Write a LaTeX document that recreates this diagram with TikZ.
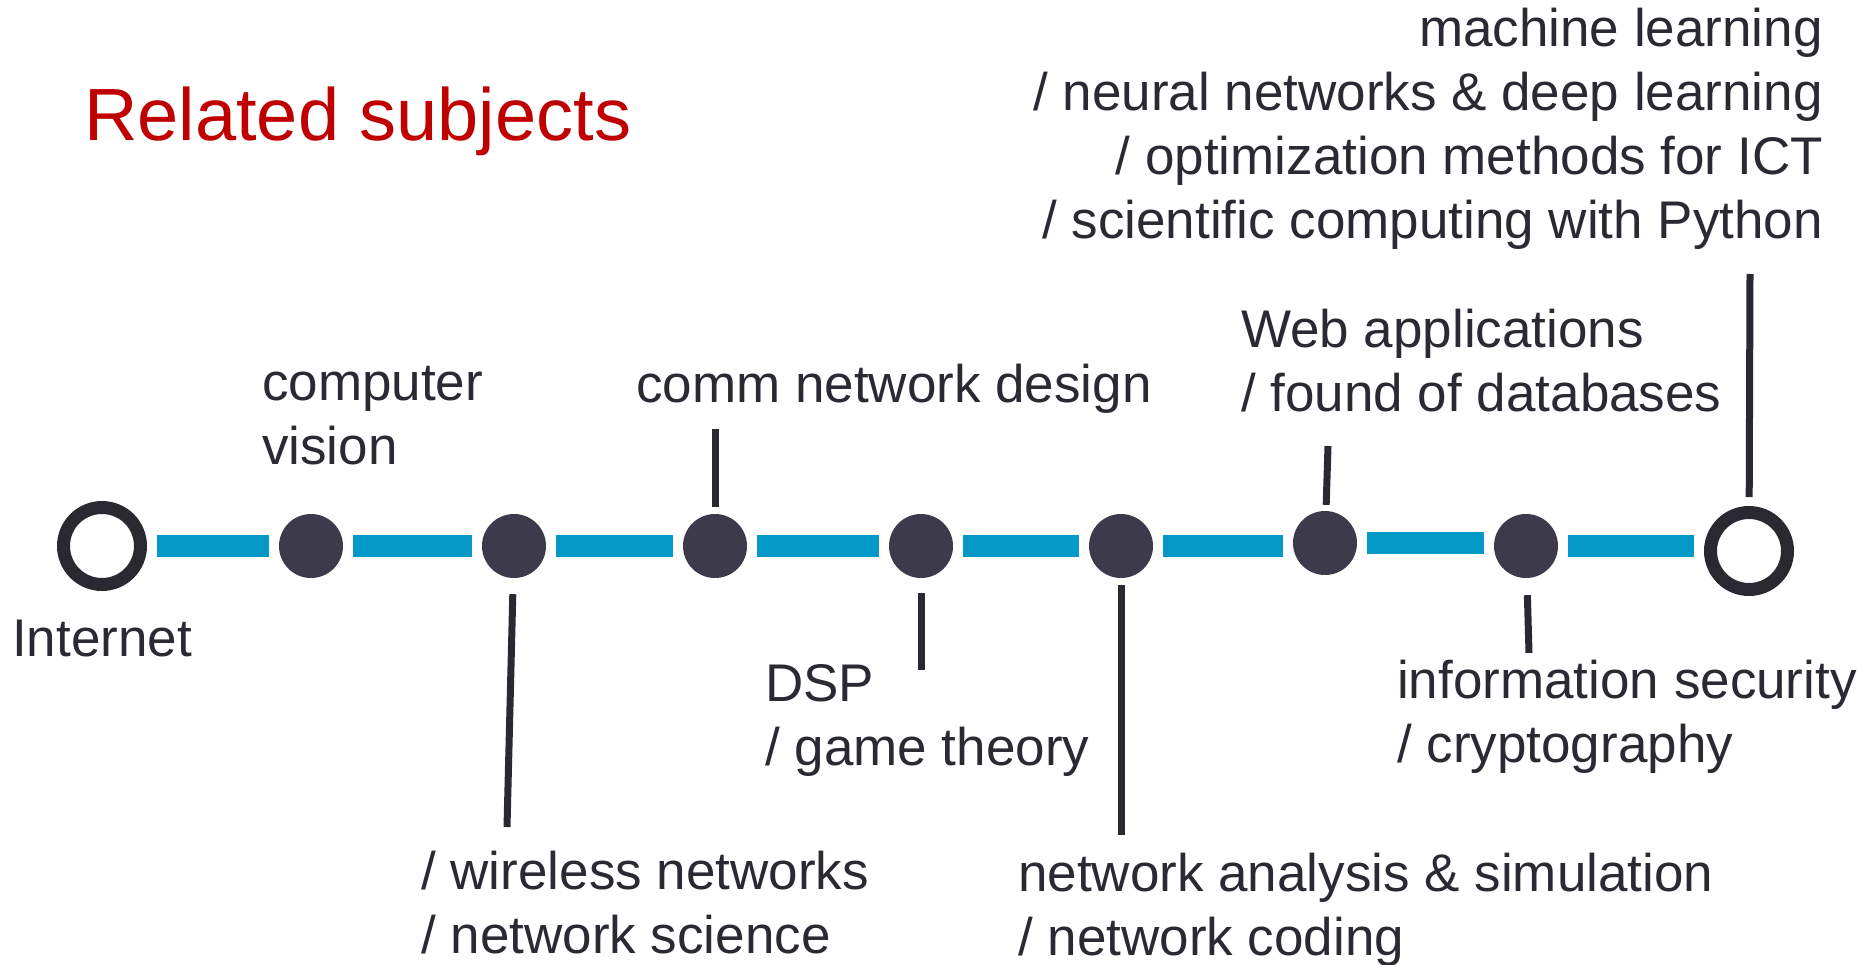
\documentclass[tikz,border=0pt]{standalone}
\usepackage{fontspec}
\setmainfont{Liberation Sans}
\usepackage{xcolor}
\definecolor{colorTitle}{HTML}{C00000}
\definecolor{colorText}{HTML}{2B2A33}
\definecolor{colorStation}{HTML}{3C3A4B}
\definecolor{colorRing}{HTML}{2A2931}
\definecolor{colorTrack}{HTML}{0499C6}
\usepackage{tikz}
\tikzset{
  station/.style={circle, fill=colorStation, minimum size=64pt, inner sep=0pt},
  terminus/.style={circle, draw=colorRing, line width=13pt, minimum size=77pt, inner sep=0pt},
  track/.style={colorTrack, line width=22pt, shorten <=10pt, shorten >=10pt},
  tick/.style={colorRing, line width=7pt},
  subject/.style={text=colorText, inner sep=0pt, font=\fontsize{53}{64}\selectfont},
}

\begin{document}
\begin{tikzpicture}[x=1pt, y=-1pt]
\useasboundingbox (0,0) rectangle (1871,964);
\node[terminus] (inet) at (102,546) {};
\node[station] (q1) at (311,546) {};
\node[station] (q2) at (514,546) {};
\node[station] (q3) at (715,546) {};
\node[station] (q4) at (921,546) {};
\node[station] (q5) at (1121,546) {};
\node[station] (q6) at (1325,543) {};
\node[station] (q7) at (1526,546) {};
\node[terminus] (qend) at (1749,551) {};
% the track
\foreach \a/\b in {inet/q1, q1/q2, q2/q3, q3/q4, q4/q5, q5/q6, q6/q7, q7/qend}
  \draw[track] (\a.east) -- (\a.east -| \b.west);
% free ends of the ticks
\coordinate (t2) at (507,827);
\coordinate (t3) at (715,429);
\coordinate (t4) at (921,670);
\coordinate (t5) at (1121,835);
\coordinate (t6) at (1328,446);
\coordinate (t7) at (1529,653);
\coordinate (tend) at (1750,274);
\foreach \n/\t/\g in {q2/t2/16, q3/t3/7, q4/t4/15, q5/t5/7, q6/t6/6, q7/t7/17, qend/tend/9}
  \draw[tick, shorten <=\g pt] (\n) -- (\t);
% labels (base = last line)
\node[text=colorTitle, inner sep=0pt, anchor=base west, font=\fontsize{74}{88}\selectfont] (title) at (84,140) {Related subjects};
\node[subject, anchor=base west] (linet) at (12,656) {Internet};
\node[subject, anchor=base west, align=left] (lcv) at (262,464) {computer\\vision};
\node[subject, anchor=base west] (lcomm) at (636,402) {comm network design};
\node[subject, anchor=base west, align=left] (ldsp) at (765,765) {DSP\\/ game theory};
\node[subject, anchor=base west, align=left] (lwl) at (421,953) {/ wireless networks\\/ network science};
\node[subject, anchor=base west, align=left] (lna) at (1018,955) {network analysis \& simulation\\/ network coding};
\node[subject, anchor=base west, align=left] (lweb) at (1241,411) {Web applications\\/ found of databases};
\node[subject, anchor=base west, align=left] (lsec) at (1397,762) {information security\\/ cryptography};
\node[subject, anchor=base east, align=right] (lml) at (1823,238) {machine learning\\/ neural networks \& deep learning\\/ optimization methods for ICT\\/ scientific computing with Python};
\end{tikzpicture}
\end{document}
